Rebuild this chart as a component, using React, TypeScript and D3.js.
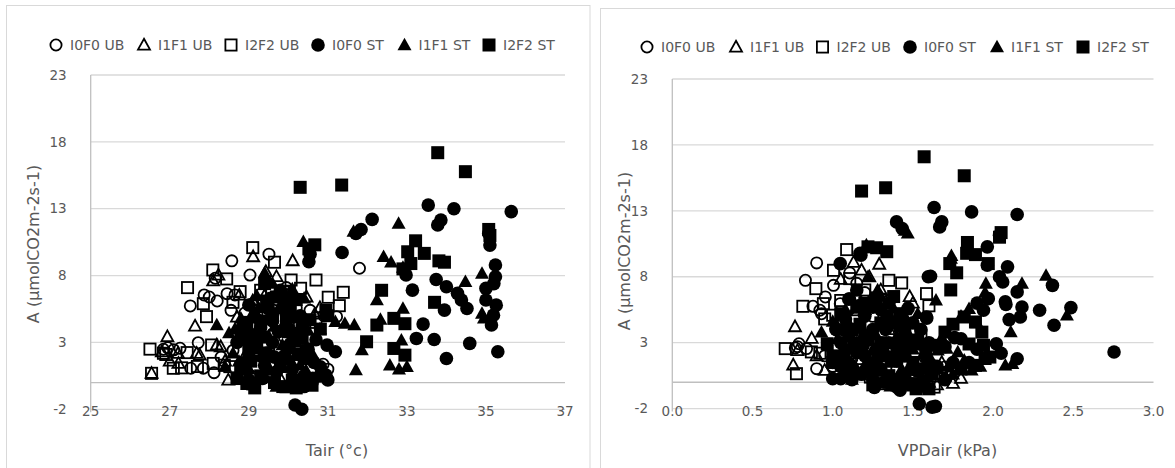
import React from 'react';
import * as d3 from 'd3';

type P = [number, number];

const seriesNames = ['I0F0 UB', 'I1F1 UB', 'I2F2 UB', 'I0F0 ST', 'I1F1 ST', 'I2F2 ST'];
const yTicks = [-2, 3, 8, 13, 18, 23];
const tairTicks = [25, 27, 29, 31, 33, 35, 37];
const vpdTicks = [0, 0.5, 1.0, 1.5, 2.0, 2.5, 3.0];

// ---------- Left panel: A vs Tair ----------
const tairI0F0UB: P[] = [
  [28.57, 9.1], [29.51, 9.6], [31.8, 8.55], [29.03, 8.04], [28.15, 7.8], [27.87, 6.55], [27.52, 5.73], [28.2, 6.1],
  [28.45, 6.65], [28.65, 6.55], [28.55, 5.4], [28.9, 5.2], [29.95, 7.1], [29.96, 6.8], [30.55, 5.4], [30.9, 5.0],
  [31.22, 4.93], [29.3, 6.6], [29.1, 5.9], [26.84, 2.49], [27.26, 2.56], [27.72, 2.98], [27.53, 1.07], [27.85, 1.07],
  [28.12, 0.74], [29.45, 0.44], [30.88, 1.37], [28.99, 3.31], [29.9, 3.4], [26.95, 2.6], [27.1, 2.45], [28.3, 1.9],
  [28.6, 2.4], [29.2, 1.2], [29.6, 0.6], [30.3, 3.6], [30.2, 5.6], [29.7, 6.2], [30.5, 2.0], [31.0, 1.0], [28.0, 6.4],
  [29.4, 5.2],
];
const tairI1F1UB: P[] = [
  [26.94, 3.43], [27.64, 4.23], [29.11, 9.41], [30.11, 9.11], [28.23, 8.04], [29.7, 7.92], [29.43, 8.3], [28.76, 6.54],
  [30.46, 6.4], [30.67, 5.12], [28.48, 0.19], [26.54, 0.69], [27.22, 1.44], [27.68, 2.19], [28.19, 2.81], [27.21, 2.18],
  [27.76, 2.05], [28.29, 2.68], [29.1, 6.1], [29.4, 6.5], [28.7, 4.9], [30.0, 4.2], [30.3, 3.4], [29.5, 1.0], [29.8, 0.3],
  [30.0, 6.6], [30.8, 5.6], [27.0, 1.6], [28.4, 1.6], [28.9, 2.0], [26.8, 2.3], [28.1, 7.6],
];
const tairI2F2UB: P[] = [
  [26.5, 2.5], [26.54, 0.69], [27.45, 7.1], [28.09, 8.42], [28.44, 7.75], [28.78, 6.8], [27.85, 5.9], [27.93, 4.93],
  [29.1, 10.09], [29.65, 9.0], [30.07, 7.67], [30.7, 7.67], [30.31, 7.05], [31.39, 6.75], [31.01, 6.38], [31.29, 5.75],
  [27.09, 1.07], [26.84, 2.19], [27.44, 2.24], [28.06, 2.81], [28.52, 1.19], [28.86, 0.32], [29.2, 5.43], [28.1, 1.43],
  [28.38, 1.3], [28.81, 0.56], [30.33, 3.67], [30.0, 4.4], [29.3, 6.9], [28.6, 6.0], [30.0, 1.5], [29.5, 2.2], [30.7, 4.5],
  [27.7, 1.2], [29.9, 6.0], [26.9, 2.1], [27.3, 1.1],
];
const tairI0F0ST: P[] = [
  [33.54, 13.27], [34.19, 13.0], [35.64, 12.78], [32.12, 12.2], [31.84, 11.45], [31.71, 11.15], [33.86, 12.15],
  [33.78, 11.78], [35.07, 11.15], [35.1, 10.28], [31.36, 9.73], [30.52, 9.03], [30.55, 9.6], [35.24, 8.79], [35.24, 7.91],
  [33.74, 7.71], [34.0, 7.16], [33.14, 6.91], [32.98, 8.04], [34.28, 6.67], [35.0, 7.04], [35.2, 7.4], [35.0, 6.17],
  [34.38, 6.17], [33.95, 5.42], [34.52, 5.54], [35.26, 5.79], [35.19, 5.04], [35.14, 4.3], [33.41, 4.37], [33.69, 3.22],
  [33.24, 3.3], [34.59, 2.93], [34.0, 1.8], [35.3, 2.3], [30.98, 2.8], [31.19, 2.3], [30.81, 1.18], [30.95, 0.56],
  [30.62, 0.31], [30.17, -1.68], [30.34, -2.0],
  [29.0, 5.8], [29.3, 4.1], [29.6, 3.0], [29.9, 2.0], [30.1, 1.0], [30.4, 0.5], [29.2, 2.6], [28.9, 1.5], [29.5, 5.5],
  [30.0, 6.3], [29.8, 6.9], [30.3, 5.0], [30.6, 0.0], [30.8, 0.5], [29.7, 0.8], [30.2, 3.5], [29.4, 1.3], [28.7, 3.0],
  [30.5, 2.5], [31.0, 0.2], [29.0, 0.2], [29.6, 4.6], [30.0, 4.0], [30.4, -0.3],
  [29.15, 4.9], [29.45, 2.2], [29.75, 3.8], [30.05, 2.9], [30.35, 4.2], [30.65, 1.5], [29.05, 3.6], [29.35, 0.3],
  [29.65, 1.9], [29.95, 5.1], [30.25, 0.0], [28.85, 4.2], [30.7, 3.2], [29.55, 6.3],
];
const tairI1F1ST: P[] = [
  [32.79, 11.9], [30.38, 10.53], [31.65, 11.3], [32.41, 9.41], [34.9, 8.16], [34.48, 7.54], [32.24, 6.17], [32.9, 5.54],
  [32.33, 4.72], [34.9, 5.17], [34.95, 4.8], [31.19, 4.55], [31.43, 4.42], [31.67, 4.3], [31.86, 2.43], [31.71, 0.93],
  [32.86, 3.17], [32.57, 1.3], [33.0, 1.18], [32.8, 1.0], [32.6, 9.0], [32.9, 8.6],
  [28.19, 4.3], [28.5, 3.7], [28.8, 4.8], [29.1, 5.2], [29.4, 8.2], [29.6, 7.4], [29.9, 4.5], [30.2, 3.0], [30.5, 3.9],
  [30.6, 2.2], [29.3, 2.0], [29.0, 1.0], [29.7, -0.3], [30.0, 0.0], [30.3, 1.3], [28.6, 2.2], [30.8, 4.0], [29.2, 6.5],
  [29.8, 5.8], [28.4, 1.2], [30.1, 7.0], [30.4, 6.3], [29.5, 3.5],
  [28.95, 3.1], [29.25, 5.6], [29.55, 0.9], [29.85, 2.8], [30.15, 4.8], [30.45, 0.9], [28.75, 1.6], [29.65, 4.2],
  [30.05, 1.7], [30.35, 2.4], [29.95, -0.4], [28.65, 4.0],
];
const tairI2F2ST: P[] = [
  [30.3, 14.6], [31.35, 14.77], [33.78, 17.19], [34.48, 15.77], [35.07, 11.45], [35.1, 11.0], [33.22, 10.6],
  [33.02, 9.78], [33.44, 9.66], [33.81, 9.1], [33.95, 9.0], [33.7, 6.0], [32.36, 6.9], [32.24, 4.3], [31.98, 3.05],
  [32.67, 4.8], [32.95, 4.4], [32.67, 2.55], [32.95, 2.05], [30.67, 10.3], [30.52, 10.0], [30.81, 4.0], [30.95, 5.4],
  [31.0, 5.0], [32.9, 8.5], [33.1, 8.9],
  [28.95, -0.07], [29.1, -0.1], [29.86, -0.3], [30.2, -0.4], [29.4, 7.4], [29.2, 3.0], [29.5, 2.0], [29.8, 1.2],
  [30.0, 3.8], [29.6, 5.0], [29.0, 2.3], [28.8, 1.0], [30.2, 6.2], [29.9, 5.6], [30.4, 1.8], [29.3, 0.5], [30.1, 0.2],
  [28.7, 0.3], [29.7, 6.4], [30.0, 2.6], [29.3, 4.6], [28.8, 3.6],
  [29.05, 1.6], [29.35, 3.4], [29.65, 0.0], [29.95, 4.6], [30.25, 2.1], [30.55, 4.7], [29.15, -0.4], [29.45, 6.1],
  [30.05, 5.5], [30.35, 3.3], [28.95, 4.5], [30.6, -0.2],
];

// ---------- Right panel: A vs VPDair ----------
const vpdI0F0UB: P[] = [
  [0.9, 9.05], [0.83, 7.73], [1.005, 7.35], [0.954, 6.47], [0.877, 5.76], [0.92, 5.46], [0.79, 2.92], [0.767, 2.6],
  [0.837, 2.55], [0.9, 1.03], [1.106, 8.29], [1.106, 6.34], [1.047, 5.96], [1.08, 2.67], [1.573, 1.91], [1.7, 1.15],
  [1.025, 3.96], [0.93, 5.2], [1.15, 7.5], [1.2, 6.8], [1.25, 5.0], [1.3, 3.0], [1.4, 1.0], [1.0, 1.2], [0.95, 2.0],
  [1.12, 1.8], [1.5, 0.5], [1.62, 1.3], [1.68, 0.6], [1.1, 5.5], [1.35, 6.2], [0.78, 2.7],
];
const vpdI1F1UB: P[] = [
  [0.765, 4.21], [0.754, 1.31], [0.869, 3.33], [1.13, 9.1], [1.29, 8.95], [1.228, 8.0], [1.48, 6.49], [1.75, -0.08],
  [0.78, 2.4], [0.9, 2.0], [1.0, 1.5], [1.15, 6.5], [1.2, 5.5], [1.3, 7.0], [1.35, 4.0], [1.45, 5.5], [1.4, 2.5],
  [1.55, 0.8], [1.6, 0.0], [1.68, 1.5], [1.72, 0.6], [1.78, 1.2], [1.1, 3.0], [1.25, 1.5], [0.95, 0.9], [1.05, 7.8],
  [1.18, 8.5], [1.5, 6.0], [1.65, -0.2], [1.8, 0.3],
];
const vpdI2F2UB: P[] = [
  [0.704, 2.55], [0.774, 0.65], [0.814, 5.76], [0.895, 7.1], [0.942, 5.96], [1.005, 8.49], [1.0, 5.08], [1.087, 10.06],
  [1.106, 7.86], [1.35, 7.73], [1.43, 7.53], [1.585, 6.72], [0.867, 2.3], [1.08, 2.92], [1.235, 0.39], [1.305, -0.11],
  [1.632, -0.37], [0.92, 2.2], [1.0, 1.5], [1.15, 5.5], [1.2, 7.0], [1.3, 6.3], [1.1, 0.9], [1.25, 2.5], [1.38, 5.0],
  [1.45, 1.2], [1.55, 3.5], [1.6, 5.8], [1.7, 0.5], [0.95, 4.8], [1.05, 6.2], [1.18, 1.8], [1.4, -0.2],
];
const vpdI0F0ST: P[] = [
  [1.632, 13.25], [1.866, 12.92], [2.15, 12.72], [1.398, 12.16], [1.433, 11.66], [1.68, 12.16], [1.667, 11.78],
  [1.964, 10.27], [2.04, 11.15], [1.61, 8.04], [1.964, 8.87], [2.09, 8.75], [2.04, 7.99], [2.06, 7.6], [2.37, 7.35],
  [2.15, 6.85], [1.97, 6.34], [1.94, 5.46], [2.076, 6.1], [2.18, 5.71], [2.485, 5.66], [2.29, 5.46], [2.1, 4.75],
  [2.17, 4.95], [2.38, 4.32], [2.754, 2.29], [2.15, 1.78], [2.02, 2.92], [1.76, 3.38], [1.585, 4.95], [1.047, 9.0],
  [1.176, 9.63], [1.17, 9.78], [1.54, -1.63], [1.62, -1.89], [1.64, -1.83], [1.4, -0.37], [1.42, -0.6], [1.0, 0.27],
  [1.05, 0.27], [1.596, 8.0], [1.586, 4.85], [1.9, 6.0], [2.08, 5.9], [1.85, 1.5], [2.05, 2.2],
  [1.1, 1.5], [1.15, 3.0], [1.2, 2.0], [1.25, 4.0], [1.3, 1.0], [1.35, 3.0], [1.45, 2.0], [1.5, 4.5], [1.1, 6.3],
  [1.15, 7.0], [1.3, 5.5], [1.55, 1.0], [1.6, 3.0], [1.0, 1.5], [1.05, 3.0], [1.25, 0.2], [1.35, 6.0], [1.45, 0.5],
  [1.2, 5.0], [1.38, 4.5], [1.7, 0.2], [1.8, 3.3], [1.65, 1.2], [1.9, 2.5], [1.02, 4.0], [1.12, 0.2],
  [1.05, 1.2], [1.12, 2.6], [1.18, 0.6], [1.22, 3.2], [1.28, 1.8], [1.33, 4.0], [1.4, 1.6], [1.45, 3.3], [1.52, 0.9],
  [1.58, 2.0], [1.08, 4.8], [1.25, 5.7], [1.47, 5.6], [1.55, 4.0], [1.32, 0.0], [1.62, 0.6], [1.7, 2.7], [1.75, 1.5],
  [1.07, 2.2], [1.13, 4.0], [1.19, 2.8], [1.24, 0.9], [1.29, 2.6], [1.34, 5.0], [1.39, 2.9], [1.44, 4.6], [1.49, 1.0],
  [1.54, 2.9], [1.57, 0.1], [1.26, -0.4], [1.16, 5.8], [1.06, 4.0],
];
const vpdI1F1ST: P[] = [
  [1.21, 10.4], [1.468, 11.3], [1.45, 11.5], [1.737, 9.38], [1.74, 9.6], [1.955, 7.48], [2.18, 7.48], [2.33, 8.1],
  [2.46, 5.08], [1.644, 6.22], [1.85, 5.58], [1.8, 5.0], [2.11, 3.81], [2.076, 1.28], [2.12, 1.4], [0.93, 3.8],
  [1.02, 4.44], [1.655, 2.42], [1.71, 2.55], [1.82, 1.66], [1.866, 0.9], [1.57, -0.37], [1.164, 2.16], [1.95, 6.8],
  [1.9, 4.5],
  [1.1, 4.5], [1.2, 5.5], [1.25, 2.5], [1.3, 6.5], [1.35, 1.5], [1.4, 3.5], [1.45, 5.0], [1.5, 2.5], [1.55, 0.5],
  [1.6, 2.0], [1.15, 1.0], [1.05, 2.0], [1.22, 8.0], [1.28, 7.0], [1.4, 0.3], [1.5, -0.3], [1.65, 1.0], [1.75, 0.6],
  [1.92, 1.2], [1.0, 4.6], [1.08, 5.5], [1.78, 2.3], [1.35, 4.8], [1.17, 3.2],
  [1.03, 3.3], [1.14, 5.6], [1.2, 1.3], [1.27, 3.6], [1.33, 2.4], [1.38, 5.6], [1.43, 1.0], [1.48, 3.5], [1.53, 5.2],
  [1.58, 1.3], [1.12, 0.2], [1.36, -0.3], [1.68, 3.4], [1.72, 1.2],
];
const vpdI2F2ST: P[] = [
  [1.18, 14.5], [1.33, 14.75], [1.57, 17.1], [1.82, 15.66], [2.05, 11.35], [2.04, 11.0], [1.84, 10.6], [1.835, 9.78],
  [1.89, 9.68], [1.97, 9.0], [1.73, 9.0], [1.773, 8.3], [1.736, 7.0], [1.22, 10.27], [1.274, 10.2], [1.337, 9.9],
  [1.89, 1.28], [1.98, 1.91], [1.94, 2.8], [1.82, 4.95], [1.89, 4.57], [0.966, 2.92], [1.8, 1.0], [1.7, 3.8],
  [1.75, 4.4], [1.93, 3.8],
  [1.0, 2.0], [1.1, 0.8], [1.15, 2.4], [1.2, 3.5], [1.25, -0.2], [1.3, 4.5], [1.35, 0.5], [1.4, 2.5], [1.45, 4.0],
  [1.5, 1.5], [1.55, -0.3], [1.6, -0.5], [1.3, 2.0], [1.2, 6.0], [1.38, 6.5], [1.48, -0.1], [1.95, 1.8], [1.85, 2.9],
  [1.12, 4.0], [1.28, 0.9], [1.42, 5.2], [1.58, 2.6],
  [1.05, 5.2], [1.1, 3.5], [1.17, 4.4], [1.23, 1.4], [1.3, 3.0], [1.37, 1.9], [1.42, 4.3], [1.47, 2.8], [1.53, 3.2],
  [1.6, 1.2], [1.08, 0.5], [1.44, 0.0], [1.27, 6.4], [1.65, 2.8], [1.52, -0.5],
];

type Kind = 'circle' | 'triangle' | 'square';
const kinds: Kind[] = ['circle', 'triangle', 'square', 'circle', 'triangle', 'square'];
const filledFlags = [false, false, false, true, true, true];

const TEXT = '#595959';
const GRID = '#d9d9d9';
const AXIS = '#bfbfbf';
const FONT = '"DejaVu Sans", Verdana, sans-serif';

function Marker({ kind, filled, x, y }: { kind: Kind; filled: boolean; x: number; y: number }) {
  const sw = 1.8;
  if (kind === 'circle') {
    return filled ? (
      <circle cx={x} cy={y} r={6.8} fill="#000" />
    ) : (
      <circle cx={x} cy={y} r={5.6} fill="none" stroke="#000" strokeWidth={sw} />
    );
  }
  if (kind === 'square') {
    const h = filled ? 6.5 : 5.6;
    return filled ? (
      <rect x={x - h} y={y - h} width={2 * h} height={2 * h} fill="#000" />
    ) : (
      <rect x={x - h} y={y - h} width={2 * h} height={2 * h} fill="none" stroke="#000" strokeWidth={sw} />
    );
  }
  const w = filled ? 14 : 12;
  const ht = filled ? 12.5 : 10.8;
  const d = `M${x},${y - ht * 0.58}L${x + w / 2},${y + ht * 0.42}L${x - w / 2},${y + ht * 0.42}Z`;
  return filled ? (
    <path d={d} fill="#000" />
  ) : (
    <path d={d} fill="none" stroke="#000" strokeWidth={sw} strokeLinejoin="miter" />
  );
}

type PanelCfg = {
  x0: number; x1: number; yTop: number; yBot: number;
  xDomain: [number, number]; xTicks: number[]; xFmt: (v: number) => string;
  legendY: number; legendX: number[];
  yTitle: [number, number]; xTitle: [number, number]; xTitleText: string;
  tickRight: number; border: [number, number, number, number];
};

function Panel({ cfg, data }: { cfg: PanelCfg; data: P[][] }) {
  const x = d3.scaleLinear().domain(cfg.xDomain).range([cfg.x0, cfg.x1]);
  const y = d3.scaleLinear().domain([-2, 23]).range([cfg.yBot, cfg.yTop]);
  const [bx, by, bw, bh] = cfg.border;
  return (
    <g>
      <rect x={bx} y={by} width={bw} height={bh} fill="#fff" stroke={GRID} strokeWidth={1} />
      {yTicks.map((t) => (
        <line key={'g' + t} x1={cfg.x0} x2={cfg.x1} y1={y(t)} y2={y(t)} stroke={GRID} strokeWidth={1.3} />
      ))}
      <line x1={cfg.x0} x2={cfg.x1} y1={y(0)} y2={y(0)} stroke={AXIS} strokeWidth={1.3} />
      <line x1={cfg.x0} x2={cfg.x0} y1={cfg.yTop} y2={cfg.yBot + 3} stroke={AXIS} strokeWidth={1.3} />
      {yTicks.map((t) => (
        <text key={'yl' + t} x={cfg.tickRight} y={y(t)} dy="0.35em" textAnchor="end" fontSize={13.5} fill={TEXT} fontFamily={FONT}>
          {t}
        </text>
      ))}
      {cfg.xTicks.map((t) => (
        <text key={'xl' + t} x={x(t)} y={411} dy="0.35em" textAnchor="middle" fontSize={13.5} fill={TEXT} fontFamily={FONT}>
          {cfg.xFmt(t)}
        </text>
      ))}
      <text
        transform={`translate(${cfg.yTitle[0]},${cfg.yTitle[1]}) rotate(-90)`}
        textAnchor="middle" dy="0.35em" fontSize={16} fill={TEXT} fontFamily={FONT}
      >
        A (µmolCO2m-2s-1)
      </text>
      <text x={cfg.xTitle[0]} y={cfg.xTitle[1]} dy="0.35em" textAnchor="middle" fontSize={16} fill={TEXT} fontFamily={FONT}>
        {cfg.xTitleText}
      </text>
      {data.map((pts, si) => (
        <g key={'s' + si}>
          {pts.map((p, i) => (
            <Marker key={i} kind={kinds[si]} filled={filledFlags[si]} x={x(p[0])} y={y(p[1])} />
          ))}
        </g>
      ))}
      {seriesNames.map((n, i) => (
        <g key={'lg' + i}>
          <Marker kind={kinds[i]} filled={filledFlags[i]} x={cfg.legendX[i]} y={cfg.legendY} />
          <text x={cfg.legendX[i] + 14} y={cfg.legendY} dy="0.35em" fontSize={14} fill={TEXT} fontFamily={FONT}>
            {n}
          </text>
        </g>
      ))}
    </g>
  );
}

const leftCfg: PanelCfg = {
  x0: 90.7, x1: 565, yTop: 75, yBot: 409.3,
  xDomain: [25, 37], xTicks: tairTicks, xFmt: (v) => String(v),
  legendY: 45, legendX: [56, 144, 231, 318, 404.5, 489],
  yTitle: [33, 244], xTitle: [337, 450], xTitleText: 'Tair (°c)',
  tickRight: 66.7, border: [6.5, 5.5, 583.5, 470],
};
const rightCfg: PanelCfg = {
  x0: 672.3, x1: 1153.5, yTop: 79, yBot: 408.6,
  xDomain: [0, 3], xTicks: vpdTicks, xFmt: (v) => v.toFixed(1),
  legendY: 47, legendX: [647, 736, 822.5, 910, 997, 1083],
  yTitle: [624.5, 251], xTitle: [947.5, 450], xTitleText: 'VPDair (kPa)',
  tickRight: 648, border: [600.5, 8.5, 600, 470],
};

export default function App() {
  const leftData = [tairI0F0UB, tairI1F1UB, tairI2F2UB, tairI0F0ST, tairI1F1ST, tairI2F2ST];
  const rightData = [vpdI0F0UB, vpdI1F1UB, vpdI2F2UB, vpdI0F0ST, vpdI1F1ST, vpdI2F2ST];
  return (
    <svg width={1175} height={468} style={{ position: 'absolute', left: 0, top: 0, background: '#fff' }}>
      <rect x={0} y={0} width={1175} height={468} fill="#fff" />
      <Panel cfg={leftCfg} data={leftData} />
      <Panel cfg={rightCfg} data={rightData} />
    </svg>
  );
}
